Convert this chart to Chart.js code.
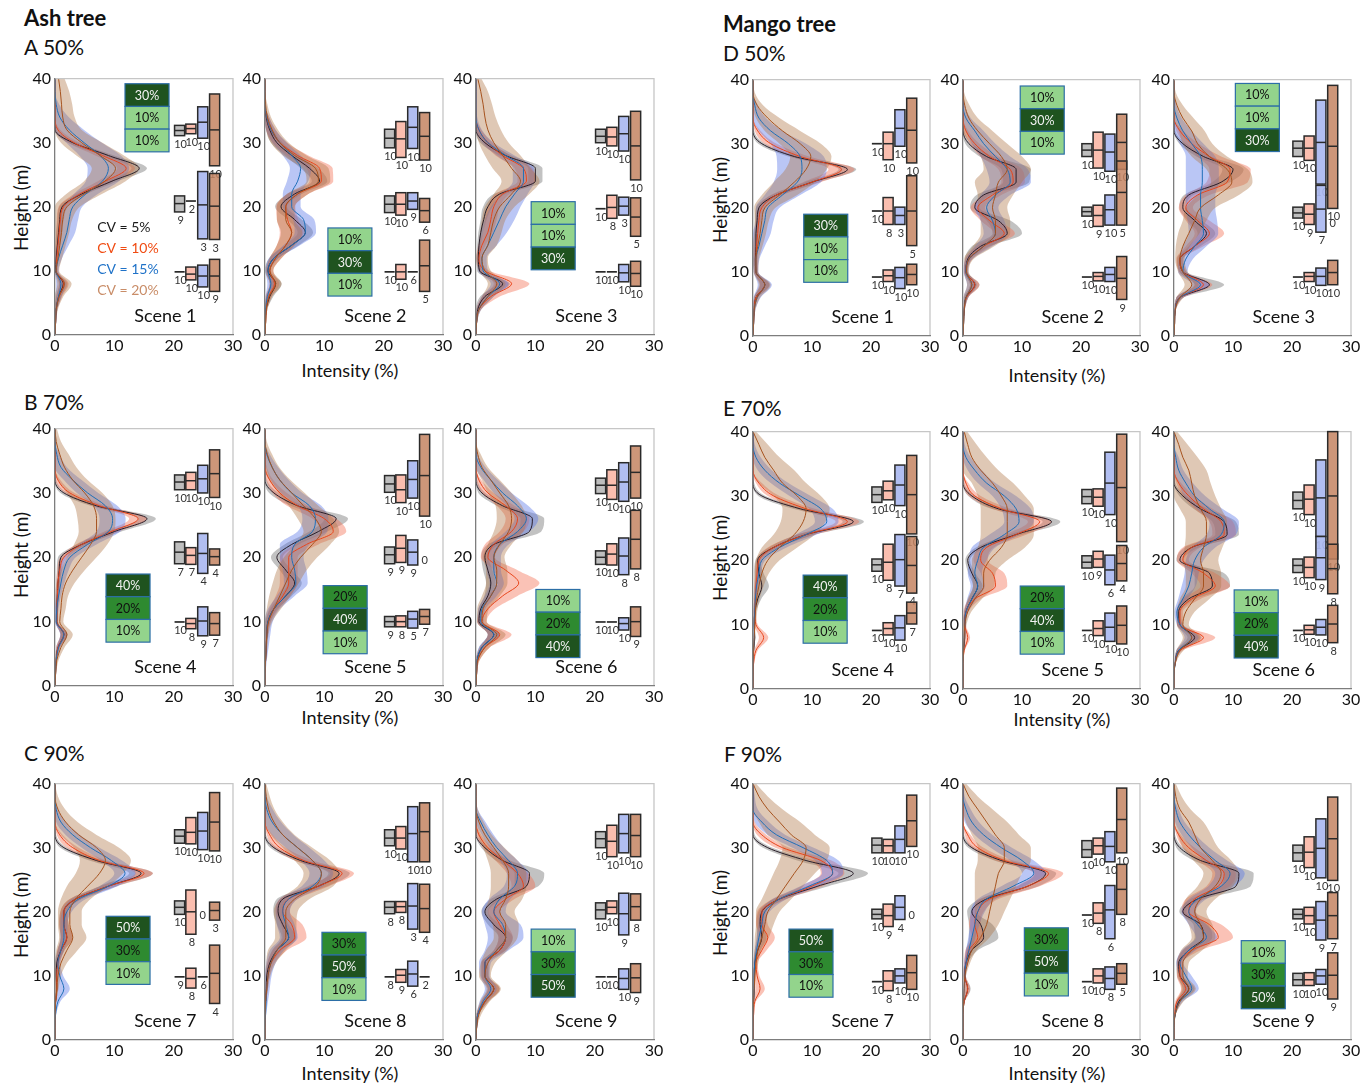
<!DOCTYPE html>
<html>
<head>
<meta charset="utf-8">
<script src="https://cdn.jsdelivr.net/npm/chart.js@4.4.1/dist/chart.umd.min.js"></script>
<style>
  body { margin: 0; background: #fff; width: 1371px; height: 1086px; position: relative; overflow: hidden; font-family: Lato, "Open Sans", sans-serif; color: #111; }
  canvas { position: absolute; }
  .t { position: absolute; white-space: nowrap; line-height: 1; }
  .big { font-size: 21px; }
  .bold { font-weight: 700; font-size: 22px; }
  .ax { font-size: 18px; transform: translateX(-50%); }
  .ay { font-size: 19px; transform: translate(-50%, -50%) rotate(-90deg); }
</style>
</head>
<body>
<div class="t bold" style="left:24px;top:7px">Ash tree</div>
<div class="t big" style="left:24px;top:36px">A 50%</div>
<div class="t big" style="left:24px;top:391px">B 70%</div>
<div class="t big" style="left:24px;top:742px">C 90%</div>
<div class="t bold" style="left:723px;top:13px">Mango tree</div>
<div class="t big" style="left:723px;top:42px">D 50%</div>
<div class="t big" style="left:723px;top:397px">E 70%</div>
<div class="t big" style="left:724px;top:743px">F 90%</div>

<div class="t ay" style="left:20px;top:208px">Height (m)</div>
<div class="t ay" style="left:20px;top:555px">Height (m)</div>
<div class="t ay" style="left:20px;top:915px">Height (m)</div>
<div class="t ay" style="left:719px;top:200px">Height (m)</div>
<div class="t ay" style="left:719px;top:558px">Height (m)</div>
<div class="t ay" style="left:719px;top:913px">Height (m)</div>

<div class="t ax" style="left:350px;top:361px">Intensity (%)</div>
<div class="t ax" style="left:350px;top:708px">Intensity (%)</div>
<div class="t ax" style="left:350px;top:1064px">Intensity (%)</div>
<div class="t ax" style="left:1057px;top:366px">Intensity (%)</div>
<div class="t ax" style="left:1062px;top:710px">Intensity (%)</div>
<div class="t ax" style="left:1057px;top:1064px">Intensity (%)</div>

<script>
// heights (m), top to bottom
const HEIGHTS = [40,38,36,34,32,30,28,26,24,22,20,18,16,14,12,10,8,6,4,2,0];

// ---- Ash tree ----
const a1_cv5 = [0,0,0,0,0,3.0,9.0,14.2,9.6,4.5,1.2,0.8,0.6,0.4,0.2,0.1,1.4,0.6,0.2,0.1,0];
const a1_cv5_sd = [0,0,0,0,0.2,0.8,1.0,1.3,1.0,0.8,0.5,0.4,0.4,0.3,0.2,0.2,0.7,0.4,0.2,0.1,0];
const a1_cv10 = [0,0,0,0,0.5,3.2,8.0,12.0,8.5,4.2,1.4,0.9,0.7,0.5,0.3,0.2,1.5,0.7,0.2,0.1,0];
const a1_cv10_sd = [0,0,0,0,0.4,1.0,1.2,1.5,1.3,1.0,0.8,0.6,0.5,0.4,0.3,0.3,0.8,0.5,0.2,0.1,0];
const a1_cv15 = [0,0,0.2,0.8,2.4,4.9,7.6,9.0,8.0,5.2,3.0,2.4,2.0,1.3,0.6,0.2,1.0,0.6,0.2,0.1,0];
const a1_cv15_sd = [0,0,0.5,1.5,2.5,3.0,3.5,3.5,2.8,2.0,1.6,1.5,1.4,1.0,0.6,0.4,0.8,0.5,0.2,0.1,0];
const a1_cv20 = [0.6,0.9,1.1,1.3,2.0,4.5,7.6,10.2,8.4,4.9,2.0,1.3,1.1,0.8,0.5,0.2,1.6,0.7,0.2,0.1,0];
const a1_cv20_sd = [1.0,1.5,1.8,2.0,2.5,3.5,4.0,4.0,3.5,3.0,2.2,1.6,1.3,1.0,0.7,0.5,1.2,0.7,0.3,0.1,0];

const a2_cv5 = [0,0,0,0.2,0.8,2.0,4.5,7.5,9.2,5.0,2.7,5.0,6.8,4.5,1.5,0.5,1.8,0.8,0.2,0.1,0];
const a2_cv5_sd = [0,0,0,0.3,0.6,1.0,1.2,1.5,1.3,1.2,1.0,1.2,1.3,1.2,0.8,0.5,1.0,0.6,0.2,0.1,0];
const a2_cv10 = [0,0,0,0.3,1.0,2.5,5.5,9.2,9.5,5.5,3.5,3.8,4.5,3.5,1.8,0.8,1.6,0.6,0.2,0.1,0];
const a2_cv10_sd = [0,0,0,0.4,0.8,1.2,1.8,2.2,2.0,1.8,1.6,1.8,2.0,1.5,1.0,0.6,0.8,0.5,0.2,0.1,0];
const a2_cv15 = [0,0,0,0.3,1.0,2.5,4.5,6.0,5.5,4.5,4.5,6.5,6.8,4.5,1.5,0.5,1.0,0.4,0.1,0,0];
const a2_cv15_sd = [0,0,0,0.4,0.8,1.2,1.5,1.8,1.8,1.5,1.5,1.8,1.8,1.4,0.8,0.4,0.6,0.3,0.1,0,0];
const a2_cv20 = [0,0,0.1,0.4,1.2,2.5,5.0,8.5,9.0,5.5,3.5,3.5,4.5,3.5,1.8,0.8,1.8,0.7,0.2,0.1,0];
const a2_cv20_sd = [0,0,0.3,0.6,1.0,1.5,2.0,2.2,2.0,1.8,1.5,1.5,1.8,1.5,1.0,0.6,1.0,0.5,0.2,0.1,0];

const a3_cv5 = [0,0,0,0,0,1.5,5.0,10.0,10.0,4.0,2.0,1.3,0.8,0.5,0.4,0.6,4.5,1.5,0.3,0.1,0];
const a3_cv5_sd = [0,0,0,0,0.3,0.8,1.0,1.2,1.2,1.0,0.8,0.5,0.4,0.3,0.3,0.4,1.2,0.8,0.3,0.1,0];
const a3_cv10 = [0,0,0,0,0.5,2.0,4.5,8.0,8.5,4.5,3.0,2.5,2.0,1.0,0.5,1.5,6.0,2.5,0.5,0.1,0];
const a3_cv10_sd = [0,0,0,0,0.4,0.8,1.2,1.5,1.5,1.2,1.0,1.0,0.8,0.6,0.4,0.8,3.0,1.5,0.4,0.1,0];
const a3_cv15 = [0,0,0,0,0.5,2.0,5.0,8.0,8.0,6.5,5.0,4.0,3.0,2.0,1.0,1.2,4.0,2.0,0.5,0.1,0];
const a3_cv15_sd = [0,0,0,0.2,0.5,1.0,1.5,1.8,1.8,2.2,2.5,2.5,2.2,1.5,0.8,0.8,1.5,1.0,0.4,0.1,0];
const a3_cv20 = [0.3,0.8,1.2,1.5,2.0,3.0,4.5,6.0,7.5,6.0,4.0,3.0,2.5,2.0,1.0,1.5,3.5,2.0,0.5,0.1,0];
const a3_cv20_sd = [0.6,1.2,1.5,1.8,2.2,2.5,3.0,3.2,3.2,3.0,2.5,2.0,1.8,1.5,1.0,1.0,1.5,1.0,0.4,0.1,0];

const a4_cv5 = [0,0,0,0,0,1.5,7.0,15.5,10.0,4.5,1.0,0.7,0.5,0.4,0.3,0.3,1.5,0.5,0.2,0.1,0];
const a4_cv5_sd = [0,0,0,0,0.2,0.6,1.0,1.5,1.2,0.8,0.5,0.4,0.3,0.3,0.2,0.2,0.6,0.3,0.1,0,0];
const a4_cv10 = [0,0,0,0,0.5,2.5,7.5,14.0,9.5,4.5,1.5,0.8,0.5,0.4,0.3,0.3,1.5,0.5,0.2,0.1,0];
const a4_cv10_sd = [0,0,0,0,0.4,0.8,1.2,1.5,1.2,1.0,0.6,0.4,0.3,0.3,0.2,0.2,0.6,0.3,0.1,0,0];
const a4_cv15 = [0,0,0.3,1.0,3.0,5.5,8.5,9.7,9.0,5.5,2.5,1.5,1.0,0.6,0.3,0.2,1.5,0.6,0.2,0.1,0];
const a4_cv15_sd = [0,0,0.5,1.0,1.5,1.8,2.0,2.2,2.0,1.5,1.0,0.8,0.6,0.4,0.3,0.2,0.6,0.3,0.1,0,0];
const a4_cv20 = [0,0.2,0.8,1.6,3.0,5.0,6.5,7.0,7.0,6.0,4.5,3.0,1.8,1.2,1.0,0.8,2.0,1.0,0.3,0.1,0];
const a4_cv20_sd = [0.3,0.8,1.5,2.0,2.5,3.0,3.2,3.2,3.0,2.8,2.5,2.0,1.5,1.0,0.8,0.6,1.0,0.6,0.3,0.1,0];

const a5_cv5 = [0,0,0,0,0,1.5,5.5,12.0,9.0,4.5,2.0,3.5,5.0,3.5,1.5,0.5,0.3,0.2,0.1,0,0];
const a5_cv5_sd = [0,0,0,0,0.3,0.8,1.2,2.0,1.5,1.2,1.0,1.0,1.2,1.0,0.6,0.4,0.2,0.1,0,0,0];
const a5_cv10 = [0,0,0,0,0.8,2.5,5.5,10.0,11.5,7.0,4.0,4.0,4.0,3.0,1.5,0.6,0.3,0.2,0.1,0,0];
const a5_cv10_sd = [0,0,0,0.3,0.6,1.2,1.8,2.0,2.2,2.0,1.5,1.5,1.5,1.2,0.8,0.4,0.2,0.1,0,0,0];
const a5_cv15 = [0,0,0.3,1.2,2.5,4.5,7.5,8.5,8.0,5.0,4.5,5.0,5.2,3.5,1.5,0.5,0.3,0.2,0.1,0,0];
const a5_cv15_sd = [0,0,0.5,1.0,1.5,1.8,2.0,2.2,2.5,2.5,2.0,2.0,2.0,1.5,1.0,0.8,0.6,0.4,0.2,0.1,0];
const a5_cv20 = [0,0,0.4,1.2,2.5,4.5,6.5,8.5,9.5,8.0,6.0,4.5,3.5,2.5,1.5,0.6,0.3,0.2,0.1,0,0];
const a5_cv20_sd = [0,0.3,0.8,1.2,1.8,2.2,2.5,3.0,3.0,3.0,2.8,2.5,2.2,1.8,1.2,0.6,0.3,0.2,0.1,0,0];

const a6_cv5 = [0,0,0,0,0,1.0,4.5,9.5,9.0,3.0,1.5,2.0,2.5,2.0,0.8,0.5,3.0,1.0,0.2,0.1,0];
const a6_cv5_sd = [0,0,0,0,0.2,0.6,1.0,2.0,2.0,1.0,0.6,0.8,0.8,0.6,0.4,0.3,1.0,0.5,0.1,0,0];
const a6_cv10 = [0,0,0,0,0.5,2.0,5.0,7.0,6.0,3.0,2.0,5.0,7.2,4.5,2.0,1.0,4.0,1.5,0.3,0.1,0];
const a6_cv10_sd = [0,0,0,0,0.4,1.0,1.5,2.0,2.0,1.5,1.2,2.0,3.5,2.5,1.2,0.8,2.0,0.8,0.3,0.1,0];
const a6_cv15 = [0,0,0,0.8,2.5,4.5,7.0,8.5,7.0,4.0,3.0,3.0,3.5,2.5,1.0,0.8,3.0,1.0,0.2,0.1,0];
const a6_cv15_sd = [0,0,0.3,0.8,1.2,1.5,1.8,2.0,2.0,1.5,1.2,1.2,1.2,1.0,0.6,0.5,1.0,0.5,0.2,0.1,0];
const a6_cv20 = [0,0,0.3,1.0,2.5,4.0,5.5,6.0,5.5,4.0,3.0,3.5,3.5,2.5,1.2,1.0,3.5,1.5,0.3,0.1,0];
const a6_cv20_sd = [0,0,0.5,1.0,1.5,2.0,2.2,2.5,2.5,2.0,1.8,1.8,1.8,1.5,1.0,0.8,1.5,0.8,0.3,0.1,0];

const a7_cv5 = [0,0,0,0,0,1.5,7.0,14.5,9.0,3.5,1.5,1.5,2.0,1.0,0.3,0.2,0.3,0.1,0,0,0];
const a7_cv5_sd = [0,0,0,0,0.2,0.6,1.2,2.0,1.5,1.0,0.6,0.8,1.0,0.6,0.3,0.2,0.2,0.1,0,0,0];
const a7_cv10 = [0,0,0,0,0.8,3.0,7.5,15.0,9.0,3.5,1.5,1.5,2.0,1.0,0.5,0.3,0.3,0.1,0,0,0];
const a7_cv10_sd = [0,0,0,0,0.5,1.0,1.2,1.5,1.3,1.0,0.6,0.8,1.0,0.6,0.3,0.2,0.2,0.1,0,0,0];
const a7_cv15 = [0,0,0.2,1.0,3.0,6.0,9.5,11.8,9.0,4.0,2.0,1.5,1.5,1.0,0.5,0.8,1.5,0.5,0.1,0,0];
const a7_cv15_sd = [0,0,0.3,0.8,1.2,1.5,1.8,1.8,1.5,1.2,0.8,0.6,0.6,0.5,0.4,0.6,1.0,0.4,0.1,0,0];
const a7_cv20 = [0,0,0.5,1.8,4.0,7.0,8.5,7.5,5.5,3.5,2.5,2.5,3.0,2.0,1.0,0.5,0.3,0.1,0,0,0];
const a7_cv20_sd = [0,0.5,1.2,2.0,3.0,3.8,4.3,4.0,3.5,2.5,2.0,2.0,2.3,1.8,1.0,0.5,0.3,0.1,0,0,0];

const a8_cv5 = [0,0,0,0,0,1.5,6.0,12.5,9.0,3.0,2.2,3.0,4.0,2.0,0.8,0.3,0.2,0.1,0,0,0];
const a8_cv5_sd = [0,0,0,0,0.2,0.6,1.0,1.8,1.5,1.0,0.8,1.0,1.2,0.8,0.4,0.2,0.1,0,0,0,0];
const a8_cv10 = [0,0,0,0,0.8,2.5,6.5,13.0,9.0,4.0,3.0,4.5,5.0,2.5,1.0,0.5,0.3,0.1,0,0,0];
const a8_cv10_sd = [0,0,0,0,0.5,1.0,1.5,2.0,1.8,1.5,1.2,1.8,2.0,1.2,0.6,0.3,0.2,0.1,0,0,0];
const a8_cv15 = [0,0,0.3,1.2,3.0,5.5,8.0,9.5,8.0,4.0,3.0,3.5,4.0,2.0,1.0,0.5,0.3,0.2,0.1,0,0];
const a8_cv15_sd = [0,0.3,1.0,1.5,1.8,2.0,2.0,2.0,1.8,1.5,1.2,1.5,1.5,1.2,0.8,0.6,0.5,0.3,0.1,0,0];
const a8_cv20 = [0,0.2,0.6,1.5,3.0,5.5,8.0,9.5,8.5,5.0,3.5,3.5,3.5,2.0,1.0,0.5,0.3,0.1,0,0,0];
const a8_cv20_sd = [0.2,0.6,1.0,1.5,2.0,2.5,3.0,3.0,3.0,2.5,2.0,1.8,1.8,1.5,0.8,0.4,0.2,0.1,0,0,0];

const a9_cv5 = [0,0,0,0,0,1.5,4.5,9.0,8.5,3.5,1.5,3.0,5.0,4.0,1.5,1.5,3.0,1.5,0.3,0.1,0];
const a9_cv5_sd = [0,0,0,0,0.2,0.6,1.2,2.5,2.0,1.0,0.6,1.0,1.2,1.0,0.6,0.6,1.0,0.6,0.2,0.1,0];
const a9_cv10 = [0,0,0,0,0.5,2.0,4.5,7.0,8.0,5.0,3.0,4.0,5.0,4.0,1.5,1.5,3.0,1.5,0.3,0.1,0];
const a9_cv10_sd = [0,0,0,0,0.4,0.8,1.2,1.8,2.0,1.5,1.0,1.2,1.2,1.0,0.6,0.6,1.0,0.6,0.2,0.1,0];
const a9_cv15 = [0,0,0,0.8,2.0,3.5,5.5,7.0,6.5,4.0,3.0,4.5,5.0,3.5,1.5,1.5,2.5,1.2,0.3,0.1,0];
const a9_cv15_sd = [0,0,0.3,0.8,1.0,1.2,1.5,1.8,1.8,1.8,2.0,3.0,3.0,2.0,1.0,0.8,1.0,0.6,0.2,0.1,0];
const a9_cv20 = [0,0,0,0.5,1.5,3.0,4.5,5.5,5.5,5.0,4.0,5.0,5.0,3.5,2.0,1.5,3.0,1.5,0.5,0.1,0];
const a9_cv20_sd = [0,0,0.3,0.8,1.2,1.8,2.5,3.0,3.0,2.8,2.5,2.2,2.0,1.8,1.2,1.0,1.2,0.8,0.4,0.1,0];

// ---- Mango tree ----
const m1_cv5 = [0,0,0,0,0,1.5,7.0,16.0,10.0,4.0,1.0,0.7,0.5,0.5,0.4,0.5,2.0,0.5,0.2,0.1,0];
const m1_cv5_sd = [0,0,0,0,0.2,0.6,1.0,1.5,1.2,0.8,0.5,0.4,0.3,0.3,0.3,0.3,0.8,0.3,0.1,0,0];
const m1_cv10 = [0,0,0,0,0.8,3.0,8.0,15.0,10.0,4.0,1.5,1.0,0.8,0.6,0.5,0.5,2.0,0.5,0.2,0.1,0];
const m1_cv10_sd = [0,0,0,0,0.5,1.0,1.5,2.2,1.5,1.0,0.6,0.4,0.3,0.3,0.3,0.3,0.8,0.3,0.1,0,0];
const m1_cv15 = [0,0,0.3,1.0,3.0,6.0,8.0,8.3,7.5,5.0,2.5,2.0,1.5,1.0,0.5,0.5,2.0,0.7,0.2,0.1,0];
const m1_cv15_sd = [0,0,0.5,1.2,2.0,3.0,4.0,4.2,4.0,3.0,2.0,1.5,1.5,1.0,0.6,0.4,1.2,0.6,0.2,0.1,0];
const m1_cv20 = [0,0,0.7,2.5,5.0,8.0,9.8,9.0,7.0,4.5,2.0,1.5,1.2,0.8,0.5,0.5,2.0,0.7,0.2,0.1,0];
const m1_cv20_sd = [0,0.3,1.0,2.0,3.0,3.5,3.5,3.5,3.5,3.0,1.8,1.2,1.0,0.8,0.5,0.4,1.0,0.5,0.2,0.1,0];

const m2_cv5 = [0,0,0,0,0,1.0,4.0,9.0,9.0,3.5,2.0,6.0,7.5,3.0,0.8,0.5,2.0,0.5,0.2,0.1,0];
const m2_cv5_sd = [0,0,0,0,0.2,0.6,1.2,2.5,2.2,1.2,0.8,2.0,2.5,1.5,0.5,0.3,0.8,0.3,0.1,0,0];
const m2_cv10 = [0,0,0,0,0.5,2.0,4.5,8.0,8.5,5.0,2.5,4.5,7.0,3.5,1.0,0.5,2.0,0.6,0.2,0.1,0];
const m2_cv10_sd = [0,0,0,0,0.4,0.8,1.5,2.0,2.0,1.5,1.2,1.5,1.8,1.2,0.6,0.3,0.8,0.3,0.1,0,0];
const m2_cv15 = [0,0,0,0.5,2.0,3.5,5.5,7.5,8.0,5.5,4.0,5.0,5.5,3.5,1.0,0.5,1.5,0.5,0.2,0.1,0];
const m2_cv15_sd = [0,0,0.3,0.8,1.5,2.0,2.5,3.5,3.5,2.5,2.0,2.0,2.0,1.5,0.6,0.4,0.8,0.4,0.1,0,0];
const m2_cv20 = [0,0,0.3,1.0,2.5,4.5,6.5,7.5,6.0,5.5,5.0,5.5,5.5,3.5,1.0,0.6,1.5,0.5,0.2,0.1,0];
const m2_cv20_sd = [0,0.2,0.8,1.5,2.5,3.0,3.5,4.0,4.0,3.0,2.5,2.5,2.5,1.8,0.8,0.4,0.8,0.4,0.1,0,0];

const m3_cv5 = [0,0,0,0,0,1.5,5.0,10.0,8.0,2.5,1.5,3.5,5.5,3.5,1.0,1.5,6.0,1.0,0.2,0.1,0];
const m3_cv5_sd = [0,0,0,0,0.2,0.6,1.2,1.8,1.5,0.8,0.6,1.2,1.5,1.0,0.5,0.6,2.5,0.6,0.1,0,0];
const m3_cv10 = [0,0,0,0,1.0,3.0,6.0,9.5,9.0,4.0,2.0,4.0,6.0,3.5,1.0,1.5,5.0,1.0,0.2,0.1,0];
const m3_cv10_sd = [0,0,0,0,0.6,1.2,2.0,3.5,3.5,2.0,1.2,2.0,2.5,1.5,0.6,0.6,1.5,0.6,0.1,0,0];
const m3_cv15 = [0,0,0,0.5,1.5,3.0,4.5,4.8,4.8,4.5,4.5,4.8,5.0,3.5,2.0,1.5,4.5,1.0,0.2,0.1,0];
const m3_cv15_sd = [0,0,0.4,0.8,1.5,2.0,2.5,2.8,2.8,2.5,2.5,2.5,2.5,2.0,1.2,0.8,1.5,0.6,0.1,0,0];
const m3_cv20 = [0,0,0.5,1.5,3.0,4.0,6.0,9.0,9.8,7.5,4.5,3.5,2.5,1.5,1.0,1.5,3.0,1.0,0.2,0.1,0];
const m3_cv20_sd = [0,0.3,1.0,1.8,2.2,2.5,3.0,3.5,3.5,3.5,2.5,2.0,1.8,1.2,0.8,0.8,1.2,0.6,0.1,0,0];

const m4_cv5 = [0,0,0,0,0,1.5,8.0,17.0,9.0,3.5,0.8,1.0,1.5,0.8,0.3,0.2,0.3,0.1,0,0,0];
const m4_cv5_sd = [0,0,0,0,0.2,0.6,1.2,1.8,1.5,0.8,0.4,0.8,1.2,0.6,0.2,0.1,0.1,0,0,0,0];
const m4_cv10 = [0,0,0,0,1.0,3.5,9.0,16.0,9.0,3.5,1.0,0.7,0.5,0.4,0.3,0.5,1.8,0.5,0.1,0,0];
const m4_cv10_sd = [0,0,0,0,0.5,1.0,1.5,2.0,1.5,1.0,0.4,0.3,0.3,0.2,0.2,0.3,0.8,0.3,0.1,0,0];
const m4_cv15 = [0,0,0.5,2.0,4.5,8.0,11.5,12.5,9.0,4.5,1.5,1.0,0.6,0.4,0.3,0.2,0.2,0.1,0,0,0];
const m4_cv15_sd = [0,0.3,0.8,1.2,1.5,1.8,2.0,2.0,1.8,1.2,0.6,0.4,0.3,0.2,0.2,0.1,0.1,0,0,0,0];
const m4_cv20 = [0,1.0,2.0,3.5,5.0,7.5,9.0,8.5,7.0,4.5,2.5,1.5,1.0,0.6,0.4,0.3,0.2,0.1,0,0,0];
const m4_cv20_sd = [0.5,1.5,2.5,3.5,4.0,4.0,4.0,3.8,3.5,3.0,2.0,1.2,0.8,0.5,0.3,0.2,0.1,0.1,0,0,0];

const m5_cv5 = [0,0,0,0,0,1.5,6.0,15.0,9.0,3.0,0.8,1.5,2.5,1.5,0.5,0.3,0.3,0.1,0,0,0];
const m5_cv5_sd = [0,0,0,0,0.2,0.6,1.2,1.5,1.2,0.8,0.4,0.6,0.8,0.6,0.3,0.2,0.1,0,0,0,0];
const m5_cv10 = [0,0,0,0,0.5,2.0,6.5,13.0,9.0,4.0,3.0,5.0,5.5,2.0,0.5,0.3,0.8,0.2,0,0,0];
const m5_cv10_sd = [0,0,0,0,0.4,1.0,1.5,2.0,1.8,1.2,1.2,2.0,2.0,1.0,0.4,0.2,0.4,0.1,0,0,0];
const m5_cv15 = [0,0,0.5,2.0,4.0,7.0,9.0,9.5,7.0,3.5,2.5,2.0,2.5,1.5,0.5,0.3,0.2,0.1,0,0,0];
const m5_cv15_sd = [0,0.3,0.8,1.2,1.5,2.0,2.5,2.5,2.5,2.0,1.5,1.2,1.2,0.8,0.3,0.2,0.1,0,0,0,0];
const m5_cv20 = [0.2,0.8,1.5,3.0,5.0,6.5,7.5,7.5,7.5,6.5,4.5,3.5,3.5,2.0,0.8,0.3,0.2,0.1,0,0,0];
const m5_cv20_sd = [0.5,1.5,2.5,3.0,3.5,4.0,4.5,4.5,4.5,4.0,3.0,2.0,1.8,1.2,0.6,0.3,0.2,0.1,0,0,0];

const m6_cv5 = [0,0,0,0,0,1.5,4.5,8.5,9.0,3.0,1.0,6.0,6.5,2.5,0.8,1.0,3.5,0.8,0.2,0,0];
const m6_cv5_sd = [0,0,0,0,0.2,0.6,1.2,2.0,2.0,1.2,0.6,2.5,3.0,1.2,0.4,0.5,1.2,0.4,0.1,0,0];
const m6_cv10 = [0,0,0,0,0.8,2.5,5.0,8.0,8.5,3.0,1.5,5.0,7.0,3.0,1.0,1.0,5.0,1.0,0.2,0,0];
const m6_cv10_sd = [0,0,0,0,0.4,1.0,1.5,2.0,2.0,1.5,1.0,2.0,2.5,1.5,0.5,0.5,2.0,0.5,0.1,0,0];
const m6_cv15 = [0,0,0.3,0.8,2.0,3.5,6.0,8.5,8.0,5.0,3.5,3.0,2.5,1.5,0.5,1.0,3.0,0.8,0.2,0,0];
const m6_cv15_sd = [0,0,0.5,0.8,1.2,1.8,2.2,2.5,2.5,2.0,1.5,1.2,1.2,0.8,0.4,0.5,1.2,0.4,0.1,0,0];
const m6_cv20 = [0,0.8,1.5,2.5,3.0,3.5,4.5,5.5,5.5,5.0,4.5,5.0,5.0,3.5,2.0,1.5,3.0,1.0,0.2,0,0];
const m6_cv20_sd = [0.5,1.5,2.5,3.0,3.2,3.5,3.5,3.5,3.5,3.2,3.0,3.0,3.0,2.5,1.5,1.0,1.5,0.6,0.1,0,0];

const m7_cv5 = [0,0,0,0,0,2.5,9.0,17.0,11.0,4.5,1.5,1.2,1.5,0.8,0.3,0.2,0.2,0.1,0,0,0];
const m7_cv5_sd = [0,0,0,0,0.3,0.8,1.5,2.5,1.8,1.0,0.6,0.6,0.8,0.5,0.2,0.1,0.1,0,0,0,0];
const m7_cv10 = [0,0,0,0,1.5,5.0,11.5,13.5,10.0,4.5,1.5,1.5,2.5,1.5,0.5,0.7,1.2,0.3,0.1,0,0];
const m7_cv10_sd = [0,0,0,0.3,0.8,1.2,1.8,2.0,1.8,1.2,0.8,1.0,1.2,0.8,0.3,0.4,0.8,0.2,0.1,0,0];
const m7_cv15 = [0,0,0,1.5,4.0,8.5,12.5,13.5,9.5,4.5,2.0,1.5,1.0,0.6,0.3,0.2,0.2,0.1,0,0,0];
const m7_cv15_sd = [0,0.3,0.8,1.2,1.5,1.8,2.0,1.8,1.5,1.2,0.8,0.6,0.4,0.3,0.2,0.1,0.1,0,0,0,0];
const m7_cv20 = [0,1.0,2.5,4.5,6.5,9.0,8.5,7.0,5.5,4.0,2.5,2.0,1.5,0.8,0.5,0.3,0.2,0.1,0,0,0];
const m7_cv20_sd = [0.5,1.5,2.5,3.5,4.0,4.0,4.0,3.5,3.0,2.5,2.0,1.5,1.2,0.6,0.4,0.2,0.1,0,0,0,0];

const m8_cv5 = [0,0,0,0,0,1.5,6.5,14.0,11.0,4.0,1.5,3.0,3.5,1.5,0.5,0.3,0.8,0.2,0,0,0];
const m8_cv5_sd = [0,0,0,0,0.2,0.6,1.2,1.8,1.8,1.2,0.8,2.0,2.5,1.0,0.3,0.2,0.5,0.1,0,0,0];
const m8_cv10 = [0,0,0,0,0.8,2.5,7.0,14.5,11.0,4.5,2.5,2.0,2.5,1.0,0.5,0.3,0.8,0.2,0,0,0];
const m8_cv10_sd = [0,0,0,0,0.5,1.0,1.5,2.5,2.0,1.5,1.0,1.0,1.0,0.6,0.3,0.2,0.4,0.1,0,0,0];
const m8_cv15 = [0,0,0.5,1.5,3.5,6.5,10.0,12.0,8.5,4.0,2.5,2.0,1.5,1.0,0.5,0.3,0.2,0.1,0,0,0];
const m8_cv15_sd = [0,0.3,0.8,1.2,1.5,1.8,2.0,2.0,2.0,1.5,1.2,0.8,0.6,0.5,0.3,0.2,0.1,0,0,0,0];
const m8_cv20 = [0,1.0,2.5,4.0,5.5,7.0,7.0,6.0,5.5,5.0,4.5,4.0,3.0,1.5,0.8,0.3,0.2,0.1,0,0,0];
const m8_cv20_sd = [0.5,1.5,2.5,3.5,4.0,4.5,4.5,4.0,3.5,3.0,2.5,2.0,1.5,0.8,0.4,0.2,0.1,0,0,0,0];

const m9_cv5 = [0,0,0,0,0,1.0,4.5,11.0,10.5,4.0,1.5,4.5,5.0,2.5,0.8,1.0,2.5,0.8,0.2,0,0];
const m9_cv5_sd = [0,0,0,0,0.2,0.6,1.2,2.5,2.5,1.2,0.6,1.2,1.5,1.0,0.4,0.5,1.0,0.4,0.1,0,0];
const m9_cv10 = [0,0,0,0,0.8,2.5,5.5,8.5,7.5,3.5,2.5,6.0,7.5,3.0,1.0,1.0,2.0,0.5,0.1,0,0];
const m9_cv10_sd = [0,0,0,0,0.4,1.0,1.5,2.0,2.0,1.5,1.2,2.0,2.5,1.5,0.5,0.5,0.8,0.3,0.1,0,0];
const m9_cv15 = [0,0,0.3,1.0,2.5,4.5,7.0,9.5,8.0,4.0,2.5,4.0,5.5,2.5,1.0,2.0,3.0,1.0,0.2,0,0];
const m9_cv15_sd = [0,0,0.5,0.8,1.2,1.5,2.0,2.5,2.2,1.5,1.2,1.5,1.8,1.2,0.6,1.0,1.2,0.5,0.1,0,0];
const m9_cv20 = [0,0.3,1.0,2.5,3.5,4.5,6.5,8.0,7.0,4.5,3.5,4.5,5.0,3.0,1.5,1.5,2.5,1.0,0.2,0,0];
const m9_cv20_sd = [0.3,1.0,1.8,2.5,2.8,3.0,3.2,3.0,3.0,2.5,2.0,2.0,2.0,1.8,1.0,0.8,1.2,0.6,0.1,0,0];

// box insets: [low, median, high, n] for gray, pink, blue, brown; top, middle, bottom group
const a1_box = [[31.1,31.9,32.7,10],[31.4,32.2,32.9,10],[30.7,33.2,35.6,10],[26.4,32.0,37.6,10],
  [19.2,20.5,21.7,9],[20.9,20.9,20.9,2],[15.0,20.3,25.5,3],[14.9,20.1,25.2,3],
  [9.85,9.85,9.85,10],[8.6,9.5,10.6,10],[7.5,9.2,10.9,10],[6.8,9.2,11.8,9]];
const a2_box = [[29.2,30.7,32.1,10],[27.7,30.6,33.3,10],[29.1,32.4,35.6,10],[27.3,31.0,34.7,10],
  [19.1,20.4,21.7,10],[18.7,20.4,22.2,10],[19.6,20.9,22.2,9],[17.6,19.4,21.3,6],
  [9.85,9.85,9.85,10],[8.7,9.85,11.0,10],[9.85,9.85,9.85,6],[6.8,10.8,14.8,5]];
const a3_box = [[30.0,31.0,32.1,10],[29.5,30.9,32.4,10],[28.7,31.4,34.1,10],[24.2,29.5,34.9,10],
  [19.7,19.7,19.7,10],[18.2,19.9,21.8,8],[18.7,20.1,21.5,3],[15.4,18.4,21.4,5],
  [9.85,9.85,9.85,10],[9.85,9.85,9.85,10],[8.3,9.7,11.0,10],[7.6,9.6,11.5,10]];
const a4_box = [[30.5,31.7,32.8,10],[30.5,31.9,33.2,10],[30.0,32.2,34.3,10],[29.3,33.0,36.7,10],
  [19.0,20.8,22.4,7],[18.9,20.3,21.5,7],[17.5,20.6,23.7,4],[18.8,20.1,21.3,4],
  [9.95,9.95,9.95,10],[8.9,9.7,10.5,8],[7.8,10.1,12.3,9],[7.9,9.7,11.4,7]];
const a5_box = [[30.1,31.4,32.7,10],[28.5,30.5,32.8,10],[29.2,32.1,35.0,10],[26.4,32.7,39.1,10],
  [19.0,20.4,21.6,9],[19.2,21.4,23.4,9],[18.8,20.8,22.7,9],[19.5,19.5,19.5,0],
  [9.2,10.0,10.8,9],[9.2,10.0,10.9,8],[9.0,10.4,11.6,5],[9.6,10.8,11.9,7]];
const a6_box = [[29.9,31.2,32.3,10],[29.0,31.2,33.6,10],[28.7,31.7,34.7,10],[29.2,33.2,37.3,10],
  [18.9,20.0,21.0,10],[18.8,20.5,22.1,10],[17.3,20.2,23.0,8],[18.2,22.8,27.3,8],
  [9.95,9.95,9.95,10],[9.95,9.95,9.95,10],[8.7,9.7,10.6,10],[7.7,10.0,12.3,9]];
const a7_box = [[30.7,31.8,32.8,10],[30.6,32.4,34.7,10],[29.7,32.6,35.5,10],[29.5,34.0,38.6,10],
  [19.6,20.7,21.7,10],[16.5,20.0,23.4,8],[19.4,19.4,19.4,0],[18.7,20.2,21.5,3],
  [9.85,9.85,9.85,9],[8.1,9.6,11.2,8],[9.85,9.85,9.85,6],[5.7,10.4,14.8,4]];
const a8_box = [[30.3,31.5,32.8,10],[29.8,31.5,33.3,10],[27.8,32.2,36.4,10],[27.8,32.5,37.0,10],
  [19.7,20.7,21.6,8],[19.9,20.8,21.6,8],[17.3,20.9,24.4,3],[16.8,20.5,24.3,4],
  [9.85,9.85,9.85,8],[9.0,10.1,11.0,9],[8.4,10.3,12.3,6],[9.85,9.85,9.85,2]];
const a9_box = [[30.0,31.4,32.5,10],[28.6,31.0,33.5,10],[29.2,32.2,35.2,10],[28.6,31.9,35.2,10],
  [18.9,20.3,21.4,10],[19.7,20.7,21.7,10],[16.4,19.7,22.9,9],[18.7,20.8,22.8,8],
  [9.85,9.85,9.85,10],[9.85,9.85,9.85,10],[7.9,9.6,11.1,10],[7.4,9.7,11.9,9]];
const m1_box = [[30.0,30.0,30.0,10],[27.5,30.0,31.8,10],[29.6,32.4,35.3,10],[27.0,32.1,37.1,10],
  [19.5,19.5,19.5,10],[17.4,19.5,21.6,8],[17.4,18.8,20.1,3],[14.1,19.5,25.0,5],
  [9.2,9.2,9.2,10],[8.5,9.4,10.3,10],[7.4,9.1,10.7,10],[8.0,9.6,11.2,10]];
const m2_box = [[28.0,29.0,30.0,10],[26.2,29.0,31.8,10],[25.7,28.7,31.5,10],[26.0,30.2,34.6,10],
  [18.7,19.4,20.1,10],[17.1,18.8,20.4,9],[17.3,19.7,22.0,10],[17.3,22.4,27.3,5],
  [9.2,9.2,9.2,10],[8.6,9.3,9.9,10],[8.5,9.6,10.7,10],[5.7,9.0,12.4,9]];
const m3_box = [[28.0,29.3,30.4,10],[27.4,29.3,31.2,10],[23.7,30.2,36.8,10],[19.9,29.6,39.1,10],
  [18.4,19.2,20.1,10],[17.4,19.0,20.6,9],[16.2,19.8,23.5,7],[17.6,17.6,17.6,0],
  [9.2,9.2,9.2,10],[8.5,9.3,9.9,10],[7.9,9.3,10.6,10],[8.0,9.9,11.8,10]];
const m4_box = [[29.0,30.2,31.4,10],[29.4,30.8,32.3,10],[28.5,31.7,34.8,10],[24.1,30.2,36.3,10],
  [18.3,19.3,20.2,10],[16.9,19.7,22.5,8],[16.0,20.1,24.0,7],[14.9,19.2,23.7,4],
  [9.1,9.1,9.1,10],[8.4,9.4,10.3,10],[7.6,9.5,11.4,10],[10.1,11.8,13.5,7]];
const m5_box = [[28.8,29.9,31.0,10],[28.4,29.8,31.1,10],[27.1,32.0,36.8,10],[22.9,31.3,39.6,10],
  [18.8,19.7,20.7,10],[18.9,20.2,21.4,9],[16.2,18.5,20.8,6],[16.8,19.5,22.3,4],
  [9.1,9.1,9.1,10],[8.3,9.4,10.6,10],[7.4,9.6,11.8,10],[7.0,9.9,12.9,10]];
const m6_box = [[28.0,29.3,30.6,10],[27.1,29.5,31.7,10],[23.7,29.7,35.6,10],[20.2,30.0,40.0,10],
  [18.1,19.2,20.2,10],[17.3,18.9,20.5,10],[17.0,20.4,23.7,9],[14.8,18.7,22.5,8],
  [9.1,9.1,9.1,10],[8.5,9.2,9.9,10],[8.4,9.6,10.8,10],[7.2,10.1,13.0,8]];
const m7_box = [[29.2,30.4,31.5,10],[29.2,30.3,31.3,10],[29.2,31.3,33.4,10],[30.2,34.2,38.2,10],
  [18.9,19.6,20.4,10],[17.7,19.4,21.2,9],[18.8,20.7,22.5,4],[19.4,19.4,19.4,0],
  [9.1,9.1,9.1,10],[7.7,9.2,10.8,8],[8.9,10.0,11.1,10],[7.9,10.5,13.2,10]];
const m8_box = [[28.5,29.7,31.1,10],[29.0,30.3,31.5,10],[27.8,30.2,32.5,10],[29.2,34.4,39.3,10],
  [19.5,19.5,19.5,10],[18.2,19.8,21.4,8],[15.8,20.3,24.1,6],[19.6,23.5,27.4,8],
  [9.1,9.1,9.1,10],[8.9,10.0,11.1,10],[7.9,9.6,11.4,8],[8.7,10.4,11.9,5]];
const m9_box = [[27.9,29.2,30.4,10],[26.9,29.3,31.7,10],[25.3,29.9,34.5,10],[24.9,31.4,37.9,10],
  [18.9,19.6,20.4,10],[18.1,19.4,20.7,10],[15.6,18.7,21.6,9],[15.8,19.4,23.0,7],
  [8.5,9.4,10.4,10],[8.5,9.4,10.5,10],[8.7,10.0,11.0,10],[6.4,10.1,13.6,9]];

// percentage stacks (top to bottom)
const a1_mix = [30,10,10], a2_mix = [10,30,10], a3_mix = [10,10,30];
const a4_mix = [40,20,10], a5_mix = [20,40,10], a6_mix = [10,20,40];
const a7_mix = [50,30,10], a8_mix = [30,50,10], a9_mix = [10,30,50];
const m1_mix = [30,10,10], m2_mix = [10,30,10], m3_mix = [10,10,30];
const m4_mix = [40,20,10], m5_mix = [20,40,10], m6_mix = [10,20,40];
const m7_mix = [50,30,10], m8_mix = [30,50,10], m9_mix = [10,30,50];

const CV_LABELS = ['CV = 5%', 'CV = 10%', 'CV = 15%', 'CV = 20%'];

// ---- layout & styles ----
const LINE_COLORS = ['#2a1f2a', '#e8461c', '#1f6fb8', '#a6531f'];
const BAND_COLORS = ['rgba(110,110,110,0.42)', 'rgba(242,110,80,0.42)', 'rgba(90,120,230,0.42)', 'rgba(176,118,70,0.40)'];
const LEGEND_TEXT = ['#1a1a1a', '#f04b12', '#1f72c8', '#c98d68'];
const BOX_FILL = ['rgba(185,185,185,0.92)', 'rgba(250,184,168,0.92)', 'rgba(170,184,240,0.92)', 'rgba(196,132,98,0.85)'];
const BOX_X = [21.0, 22.9, 24.9, 26.9];
const BOX_W = 1.7;
const MIX_POS = [[11.8,39.2],[10.6,16.7],[9.3,20.8],[8.6,17.4],[9.8,15.6],[10.1,15.0],[8.6,19.3],[9.6,16.8],[9.3,17.3],
                 [8.6,19.0],[9.7,39.0],[10.4,39.4],[8.5,17.7],[9.7,16.0],[10.2,15.4],[6.1,17.3],[10.4,17.5],[11.4,15.5]];
const PAD_L = 32, PAD_T = 10, PAD_R = 14, PAD_B = 26;

const PANELS = [
  {scene: 1, means: [a1_cv5, a1_cv10, a1_cv15, a1_cv20], sds: [a1_cv5_sd, a1_cv10_sd, a1_cv15_sd, a1_cv20_sd], boxes: a1_box, mix: a1_mix},
  {scene: 2, means: [a2_cv5, a2_cv10, a2_cv15, a2_cv20], sds: [a2_cv5_sd, a2_cv10_sd, a2_cv15_sd, a2_cv20_sd], boxes: a2_box, mix: a2_mix},
  {scene: 3, means: [a3_cv5, a3_cv10, a3_cv15, a3_cv20], sds: [a3_cv5_sd, a3_cv10_sd, a3_cv15_sd, a3_cv20_sd], boxes: a3_box, mix: a3_mix},
  {scene: 4, means: [a4_cv5, a4_cv10, a4_cv15, a4_cv20], sds: [a4_cv5_sd, a4_cv10_sd, a4_cv15_sd, a4_cv20_sd], boxes: a4_box, mix: a4_mix},
  {scene: 5, means: [a5_cv5, a5_cv10, a5_cv15, a5_cv20], sds: [a5_cv5_sd, a5_cv10_sd, a5_cv15_sd, a5_cv20_sd], boxes: a5_box, mix: a5_mix},
  {scene: 6, means: [a6_cv5, a6_cv10, a6_cv15, a6_cv20], sds: [a6_cv5_sd, a6_cv10_sd, a6_cv15_sd, a6_cv20_sd], boxes: a6_box, mix: a6_mix},
  {scene: 7, means: [a7_cv5, a7_cv10, a7_cv15, a7_cv20], sds: [a7_cv5_sd, a7_cv10_sd, a7_cv15_sd, a7_cv20_sd], boxes: a7_box, mix: a7_mix},
  {scene: 8, means: [a8_cv5, a8_cv10, a8_cv15, a8_cv20], sds: [a8_cv5_sd, a8_cv10_sd, a8_cv15_sd, a8_cv20_sd], boxes: a8_box, mix: a8_mix},
  {scene: 9, means: [a9_cv5, a9_cv10, a9_cv15, a9_cv20], sds: [a9_cv5_sd, a9_cv10_sd, a9_cv15_sd, a9_cv20_sd], boxes: a9_box, mix: a9_mix},
  {scene: 1, means: [m1_cv5, m1_cv10, m1_cv15, m1_cv20], sds: [m1_cv5_sd, m1_cv10_sd, m1_cv15_sd, m1_cv20_sd], boxes: m1_box, mix: m1_mix},
  {scene: 2, means: [m2_cv5, m2_cv10, m2_cv15, m2_cv20], sds: [m2_cv5_sd, m2_cv10_sd, m2_cv15_sd, m2_cv20_sd], boxes: m2_box, mix: m2_mix},
  {scene: 3, means: [m3_cv5, m3_cv10, m3_cv15, m3_cv20], sds: [m3_cv5_sd, m3_cv10_sd, m3_cv15_sd, m3_cv20_sd], boxes: m3_box, mix: m3_mix},
  {scene: 4, means: [m4_cv5, m4_cv10, m4_cv15, m4_cv20], sds: [m4_cv5_sd, m4_cv10_sd, m4_cv15_sd, m4_cv20_sd], boxes: m4_box, mix: m4_mix},
  {scene: 5, means: [m5_cv5, m5_cv10, m5_cv15, m5_cv20], sds: [m5_cv5_sd, m5_cv10_sd, m5_cv15_sd, m5_cv20_sd], boxes: m5_box, mix: m5_mix},
  {scene: 6, means: [m6_cv5, m6_cv10, m6_cv15, m6_cv20], sds: [m6_cv5_sd, m6_cv10_sd, m6_cv15_sd, m6_cv20_sd], boxes: m6_box, mix: m6_mix},
  {scene: 7, means: [m7_cv5, m7_cv10, m7_cv15, m7_cv20], sds: [m7_cv5_sd, m7_cv10_sd, m7_cv15_sd, m7_cv20_sd], boxes: m7_box, mix: m7_mix},
  {scene: 8, means: [m8_cv5, m8_cv10, m8_cv15, m8_cv20], sds: [m8_cv5_sd, m8_cv10_sd, m8_cv15_sd, m8_cv20_sd], boxes: m8_box, mix: m8_mix},
  {scene: 9, means: [m9_cv5, m9_cv10, m9_cv15, m9_cv20], sds: [m9_cv5_sd, m9_cv10_sd, m9_cv15_sd, m9_cv20_sd], boxes: m9_box, mix: m9_mix},
];

Chart.defaults.font.family = 'Lato, "Open Sans", sans-serif';
Chart.defaults.color = '#111';

function panelRect(i) {
  const mango = i >= 9, row = Math.floor((i % 9) / 3), col = i % 3;
  const left = mango ? [753, 963, 1174][col] : [55, 265, 476][col];
  const width = mango ? 177 : 178;
  const top = mango ? [76, 428, 780][row] : [75, 425, 780][row];
  const bottom = mango ? [336, 689, 1040][row] : [335, 686, 1040][row];
  return {left, top, width, height: bottom - top};
}

// darkest cell for the largest share, light for 10%, medium otherwise
function mixShade(v, mix) {
  if (v === Math.max(...mix)) return 'dark';
  if (v === 10) return 'light';
  return 'mid';
}
const SHADE_FILL = {dark: '#1f531f', mid: '#2e8a30', light: '#93d48c'};
const SHADE_TEXT = {dark: '#f2f2f2', mid: '#111', light: '#111'};

function extrasPlugin(p, idx) {
  return {
    id: 'extras' + idx,
    afterDatasetsDraw(chart) {
      const {ctx, chartArea: a, scales: {x, y}} = chart;
      ctx.save();
      // light frame top/right
      ctx.strokeStyle = '#c6c6c6';
      ctx.lineWidth = 1.3;
      ctx.beginPath();
      ctx.moveTo(a.left, a.top); ctx.lineTo(a.right, a.top); ctx.lineTo(a.right, a.bottom);
      ctx.stroke();

      // box insets
      const half = (x.getPixelForValue(BOX_W) - x.getPixelForValue(0)) / 2;
      ctx.font = '11px Lato, "Open Sans", sans-serif';
      p.boxes.forEach((b, i) => {
        const c = i % 4;
        const [lo, med, hi, n] = b;
        const xc = x.getPixelForValue(BOX_X[c]);
        ctx.textAlign = 'center';
        if (n === 0) {
          ctx.fillStyle = '#333';
          ctx.textBaseline = 'middle';
          ctx.fillText('0', xc, y.getPixelForValue(med));
          return;
        }
        const yLo = y.getPixelForValue(lo), yHi = y.getPixelForValue(hi), yMed = y.getPixelForValue(med);
        ctx.strokeStyle = '#2a2a2a';
        ctx.lineWidth = 1.5;
        if (hi > lo) {
          ctx.fillStyle = BOX_FILL[c];
          ctx.fillRect(xc - half, yHi, half * 2, yLo - yHi);
          ctx.strokeRect(xc - half, yHi, half * 2, yLo - yHi);
          ctx.beginPath(); ctx.moveTo(xc - half, yMed); ctx.lineTo(xc + half, yMed); ctx.stroke();
        } else {
          ctx.lineWidth = 1.7;
          ctx.beginPath(); ctx.moveTo(xc - half, yMed); ctx.lineTo(xc + half, yMed); ctx.stroke();
        }
        ctx.fillStyle = '#333';
        ctx.textBaseline = 'top';
        ctx.fillText(String(n), xc + 1, yLo + 3);
      });

      // percentage stack
      const [mx, my] = MIX_POS[idx];
      const bx = x.getPixelForValue(mx), by = y.getPixelForValue(my);
      const cw = 44, ch = 22.7;
      ctx.font = '12.5px Lato, "Open Sans", sans-serif';
      ctx.textAlign = 'center';
      ctx.textBaseline = 'middle';
      p.mix.forEach((v, k) => {
        const shade = mixShade(v, p.mix);
        ctx.fillStyle = SHADE_FILL[shade];
        ctx.fillRect(bx, by + k * ch, cw, ch);
        ctx.strokeStyle = '#2c6ea6';
        ctx.lineWidth = 1.2;
        ctx.strokeRect(bx, by + k * ch, cw, ch);
        ctx.fillStyle = SHADE_TEXT[shade];
        ctx.fillText(v + '%', bx + cw / 2, by + k * ch + ch / 2 + 0.5);
      });

      // CV legend (first panel only)
      if (idx === 0) {
        ctx.font = '14px Lato, "Open Sans", sans-serif';
        ctx.textAlign = 'left';
        const lx = x.getPixelForValue(7.1);
        [16.8, 13.5, 10.2, 6.9].forEach((h, k) => {
          ctx.fillStyle = LEGEND_TEXT[k];
          ctx.fillText(CV_LABELS[k], lx, y.getPixelForValue(h));
        });
      }

      // scene label
      ctx.font = '18px Lato, "Open Sans", sans-serif';
      ctx.fillStyle = '#111';
      ctx.textAlign = 'center';
      ctx.textBaseline = 'middle';
      ctx.fillText('Scene ' + p.scene, x.getPixelForValue(18.6), y.getPixelForValue(3.0));
      ctx.restore();
    }
  };
}

PANELS.forEach((p, idx) => {
  const r = panelRect(idx);
  const cv = document.createElement('canvas');
  cv.width = PAD_L + r.width + PAD_R;
  cv.height = PAD_T + r.height + PAD_B;
  cv.style.left = (r.left - PAD_L) + 'px';
  cv.style.top = (r.top - PAD_T) + 'px';
  document.body.appendChild(cv);

  const datasets = [];
  // bands: tan, blue, salmon, gray
  [3, 2, 1, 0].forEach(s => {
    const m = p.means[s], sd = p.sds[s];
    datasets.push({
      data: HEIGHTS.map((h, i) => ({x: Math.max(0, (m[i] ?? 0) - (sd[i] ?? 0)), y: h})),
      borderWidth: 0, borderColor: 'transparent', fill: false,
    });
    datasets.push({
      data: HEIGHTS.map((h, i) => ({x: (m[i] ?? 0) + (sd[i] ?? 0), y: h})),
      borderWidth: 0, borderColor: 'transparent', backgroundColor: BAND_COLORS[s], fill: '-1',
    });
  });
  // mean lines
  [3, 2, 1, 0].forEach(s => {
    const m = p.means[s];
    datasets.push({
      data: HEIGHTS.map((h, i) => ({x: m[i] ?? 0, y: h})),
      borderColor: LINE_COLORS[s], borderWidth: 1, fill: false,
    });
  });

  new Chart(cv, {
    type: 'line',
    data: {datasets},
    options: {
      responsive: false,
      animation: false,
      events: [],
      indexAxis: 'y',
      layout: {padding: {left: 0, top: PAD_T, right: PAD_R, bottom: 0}},
      elements: {
        point: {radius: 0, hoverRadius: 0},
        line: {cubicInterpolationMode: 'monotone'},
      },
      plugins: {
        legend: {display: false},
        tooltip: {enabled: false},
        filler: {drawTime: 'beforeDatasetsDraw'},
      },
      scales: {
        x: {
          type: 'linear', position: 'bottom', min: 0, max: 30,
          grid: {display: false, drawTicks: false},
          border: {color: '#7d7d7d', width: 1.3, z: 1},
          ticks: {stepSize: 10, padding: 1, color: '#111', font: {size: 16}, autoSkip: false, maxRotation: 0},
          afterFit: s => { s.height = PAD_B; },
        },
        y: {
          type: 'linear', position: 'left', min: 0, max: 40,
          grid: {display: false, drawTicks: false},
          border: {color: '#7d7d7d', width: 1.3, z: 1},
          ticks: {stepSize: 10, padding: 4, color: '#111', font: {size: 16}, autoSkip: false},
          afterFit: s => { s.width = PAD_L; },
        },
      },
    },
    plugins: [extrasPlugin(p, idx)],
  });
});
</script>
</body>
</html>
